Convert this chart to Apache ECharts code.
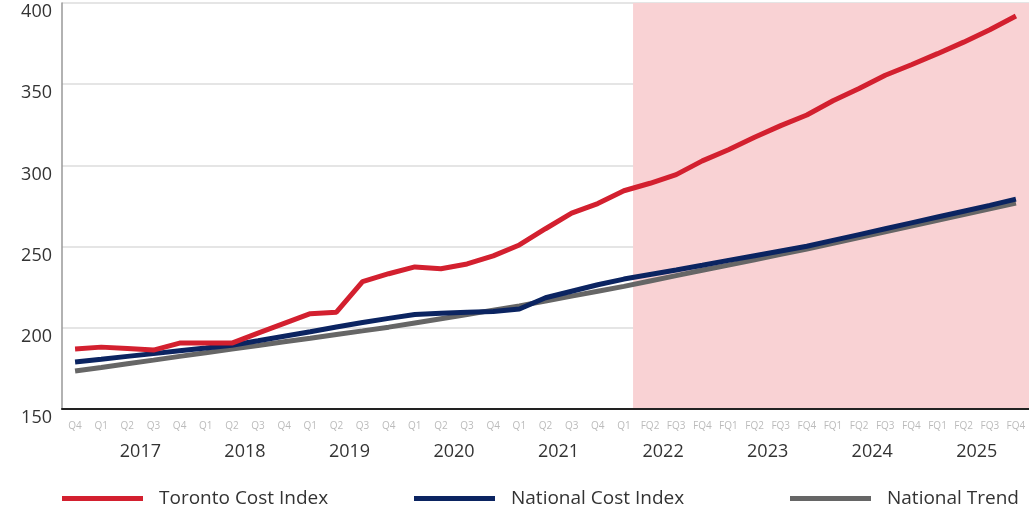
<!DOCTYPE html>
<html>
<head>
<meta charset="utf-8">
<title>Construction cost index</title>
<script src="https://cdn.jsdelivr.net/npm/echarts@6/dist/echarts.min.js"></script>
<style>
  html, body { margin: 0; padding: 0; background: #fff; }
  #chart { width: 1029px; height: 509px; }
</style>
</head>
<body>
<div id="chart"></div>
<script>
// quarter labels along the axis (Q4 2016 .. FQ4 2025)
const quarters = [
  'Q4',
  'Q1', 'Q2', 'Q3', 'Q4',
  'Q1', 'Q2', 'Q3', 'Q4',
  'Q1', 'Q2', 'Q3', 'Q4',
  'Q1', 'Q2', 'Q3', 'Q4',
  'Q1', 'Q2', 'Q3', 'Q4',
  'Q1', 'FQ2', 'FQ3', 'FQ4',
  'FQ1', 'FQ2', 'FQ3', 'FQ4',
  'FQ1', 'FQ2', 'FQ3', 'FQ4',
  'FQ1', 'FQ2', 'FQ3', 'FQ4'
];
const years = ['2017', '2018', '2019', '2020', '2021', '2022', '2023', '2024', '2025'];

const toronto = [
  187.0, 188.1, 187.3, 186.3, 190.6, 190.6, 190.6, 196.7, 202.7, 208.7,
  209.6, 228.4, 233.3, 237.5, 236.4, 239.3, 244.3, 251.0, 261.0, 270.6,
  276.5, 284.4, 289.0, 294.3, 302.8, 309.6, 317.3, 324.5, 331.0, 339.8,
  347.3, 355.5, 362.0, 368.8, 375.9, 383.5, 392.0
];
const national = [
  178.9, 180.6, 182.4, 184.1, 185.8, 187.5, 189.3, 192.0, 194.8, 197.6,
  200.5, 203.3, 205.8, 208.2, 209.0, 209.6, 210.1, 211.6, 218.5, 222.5,
  226.5, 230.0, 232.8, 235.6, 238.5, 241.5, 244.4, 247.3, 250.2, 253.8,
  257.4, 261.0, 264.6, 268.2, 271.8, 275.4, 279.2
];
const trend = [
  173.4, 175.6, 177.9, 180.1, 182.4, 184.6, 186.9, 189.1, 191.4, 193.6,
  195.9, 198.1, 200.4, 203.0, 205.6, 208.2, 210.9, 213.5, 216.5, 219.5,
  222.5, 225.5, 228.8, 232.1, 235.4, 238.6, 241.9, 245.2, 248.5, 252.0,
  255.6, 259.1, 262.6, 266.2, 269.7, 273.3, 276.8
];

// forecast shading starts here (in quarter-band units)
const forecastStart = 21.85;

const FONT = '"Open Sans", sans-serif';
// each year label sits in the middle of its four quarters
const yearTicks = years.map((y, i) => 3 + 4 * i);

const chart = echarts.init(document.getElementById('chart'));

const legendBase = {
  icon: 'rect',
  itemWidth: 81,
  itemHeight: 5,
  top: 484,
  textStyle: { fontFamily: FONT, fontSize: 19, color: '#333', padding: [0, 0, 0, 11] }
};

chart.setOption({
  animation: false,
  grid: { left: 62, right: 0, top: 3, bottom: 100 },
  legend: [
    Object.assign({ left: 57, data: ['Toronto Cost Index'] }, legendBase),
    Object.assign({ left: 409, data: ['National Cost Index'] }, legendBase),
    Object.assign({ left: 785, data: ['National Trend'] }, legendBase)
  ],
  xAxis: [
    {
      type: 'category',
      data: quarters,
      boundaryGap: true,
      z: 1,
      axisLine: { lineStyle: { color: '#222', width: 2 } },
      axisTick: { show: false },
      axisLabel: { interval: 0, margin: 12, fontFamily: FONT, fontSize: 10, color: '#bbb' }
    },
    {
      type: 'value',
      min: 0,
      max: quarters.length,
      position: 'bottom',
      axisLine: { show: false },
      axisTick: { show: false },
      splitLine: { show: false },
      axisLabel: {
        customValues: yearTicks,
        margin: 34,
        fontFamily: FONT,
        fontSize: 18,
        color: '#333',
        formatter: v => years[(v - 3) / 4]
      }
    }
  ],
  yAxis: {
    type: 'value',
    min: 150,
    max: 400,
    interval: 50,
    z: 1,
    axisLine: { show: true, lineStyle: { color: '#999', width: 1.5 } },
    axisTick: { show: false },
    splitLine: { lineStyle: { color: '#dcdcdc', width: 1.5 } },
    axisLabel: {
      margin: 10,
      verticalAlign: 'top',
      fontFamily: FONT,
      fontSize: 18,
      color: '#333'
    }
  },
  series: [
    {
      name: 'forecast',
      type: 'line',
      xAxisIndex: 1,
      data: [],
      z: 0,
      silent: true,
      markArea: {
        silent: true,
        itemStyle: { color: '#f9d2d4' },
        data: [[{ xAxis: forecastStart }, { xAxis: quarters.length }]]
      }
    },
    {
      name: 'National Trend',
      type: 'line',
      data: trend,
      z: 3,
      symbol: 'none',
      lineStyle: { color: '#666', width: 5 },
      itemStyle: { color: '#666' }
    },
    {
      name: 'National Cost Index',
      type: 'line',
      data: national,
      z: 4,
      symbol: 'none',
      lineStyle: { color: '#0b2461', width: 5 },
      itemStyle: { color: '#0b2461' }
    },
    {
      name: 'Toronto Cost Index',
      type: 'line',
      data: toronto,
      z: 5,
      symbol: 'none',
      lineStyle: { color: '#d3202f', width: 5 },
      itemStyle: { color: '#d3202f' }
    }
  ]
});
</script>
</body>
</html>
